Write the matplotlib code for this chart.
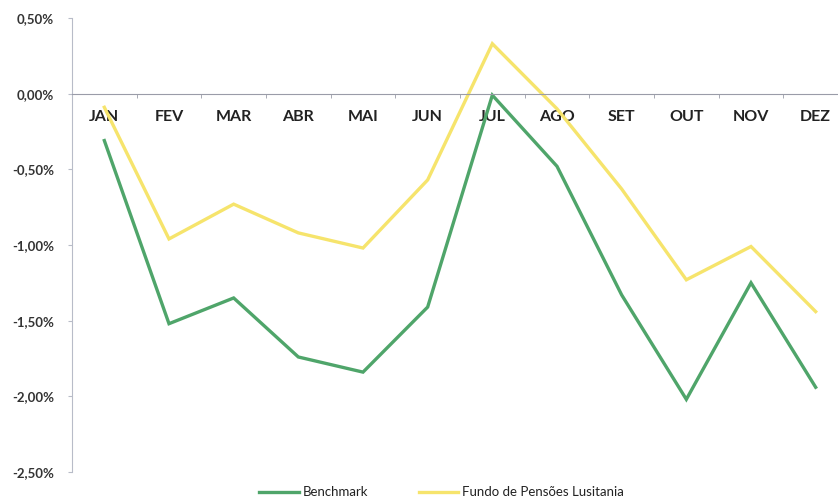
import matplotlib
matplotlib.use("Agg")
import matplotlib.pyplot as plt
from matplotlib.ticker import FixedLocator, FuncFormatter

months = ["JAN", "FEV", "MAR", "ABR", "MAI", "JUN", "JUL", "AGO", "SET", "OUT", "NOV", "DEZ"]
benchmark = [-0.31, -1.52, -1.35, -1.74, -1.84, -1.41, -0.01, -0.48, -1.33, -2.02, -1.25, -1.94]
fundo = [-0.09, -0.96, -0.73, -0.92, -1.02, -0.57, 0.33, -0.10, -0.63, -1.23, -1.01, -1.44]
yticks = [0.5, 0.0, -0.5, -1.0, -1.5, -2.0, -2.5]

plt.rcParams["font.family"] = ["Lato", "DejaVu Sans"]

fig = plt.figure(figsize=(8.38, 5.03), dpi=100)
ax = fig.add_axes([72 / 838, 1 - 472 / 503, 776 / 838, 454 / 503])

x = list(range(len(months)))
ax.plot(x, benchmark, color="#4fa56a", lw=2.4, label="Benchmark", solid_joinstyle="miter")
ax.plot(x, fundo, color="#f6e46c", lw=2.4, label="Fundo de Pensões Lusitania", solid_joinstyle="miter")

ax.set_xlim(-0.5, 11.5)
ax.set_ylim(-2.5, 0.5)

for s in ["top", "right"]:
    ax.spines[s].set_visible(False)
ax.spines["left"].set_color("#b8bcc8")
ax.spines["bottom"].set_color("#9a9ca8")
ax.spines["bottom"].set_position(("data", 0))

ax.yaxis.set_major_locator(FixedLocator(yticks))
ax.yaxis.set_major_formatter(FuncFormatter(lambda v, p: f"{v:.2f}%".replace(".", ",")))
ax.tick_params(axis="y", length=3, color="#b8bcc8", labelsize=9.5, pad=10)
for lab in ax.get_yticklabels():
    lab.set_fontweight("bold")
    lab.set_color("#333333")

ax.set_xticks(x)
ax.set_xticklabels(months, fontsize=11.5, fontweight="bold", color="#222222")
ax.set_xticks([i - 0.5 for i in range(1, 12)], minor=True)
ax.tick_params(axis="x", which="major", length=0, pad=12)
ax.tick_params(axis="x", which="minor", length=3, color="#9a9ca8")

leg = fig.legend(loc="lower center", bbox_to_anchor=(0.527, -0.014), ncol=2, frameon=False,
                 fontsize=9.5, handlelength=3.0, handletextpad=0.3, columnspacing=3.8)
for t in leg.get_texts():
    t.set_color("#222222")

fig.savefig("out.png", dpi=100)
